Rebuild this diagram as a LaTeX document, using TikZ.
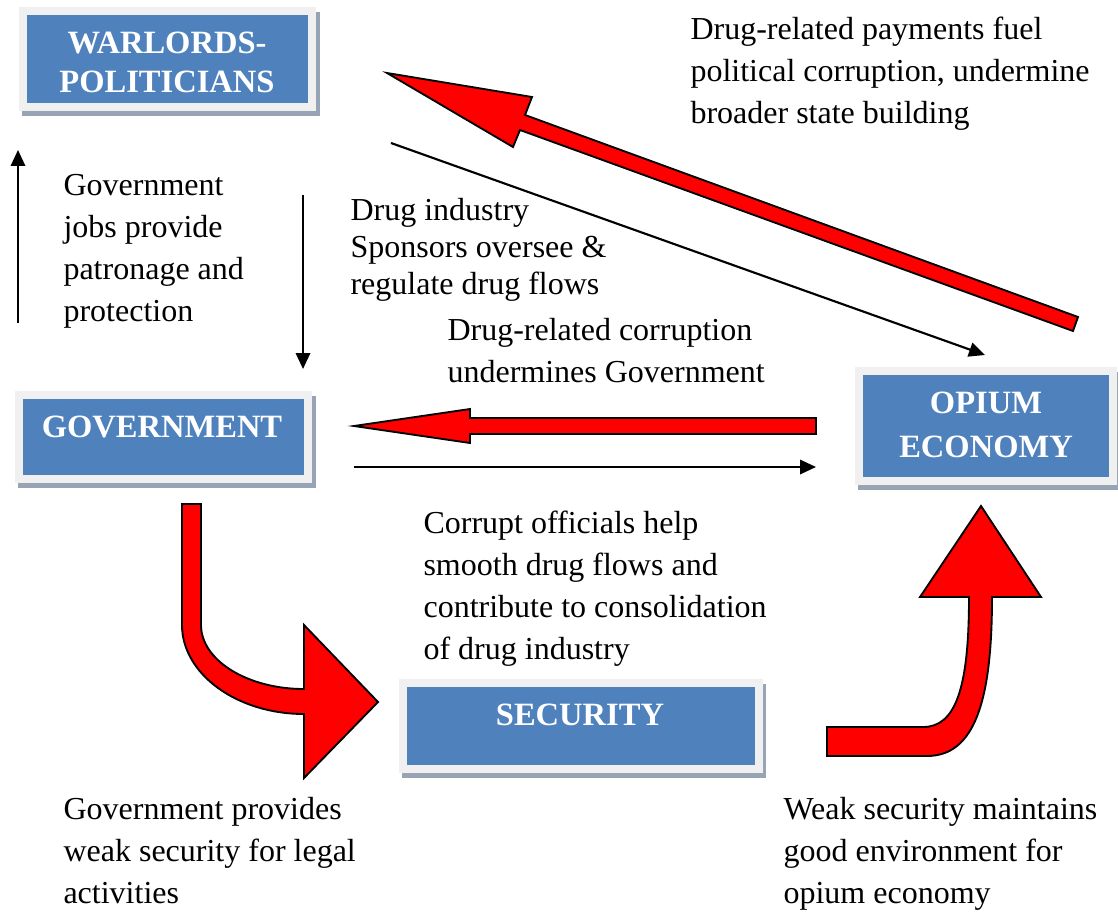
\documentclass[tikz,border=0pt]{standalone}
\usepackage{fontspec}
\setmainfont{Liberation Serif}
\usetikzlibrary{arrows.meta}
\definecolor{boxblue}{HTML}{4F81BD}
\definecolor{boxframe}{HTML}{F0F0F0}
\definecolor{boxshade}{HTML}{98A4B6}

\begin{document}
\begin{tikzpicture}[x=0.375pt, y=-0.375pt,
    box/.style={rectangle, draw=boxframe, line width=3pt, fill=boxblue, inner sep=0pt,
        preaction={draw=boxshade, fill=boxshade, line width=3pt,
            transform canvas={shift={(1.3pt,-1.7pt)}}}},
    boxlabel/.style={text=white, align=center, inner sep=0pt,
        font=\bfseries\fontsize{12.2}{14.6}\selectfont},
    note/.style={anchor=north west, align=left, inner sep=0pt,
        font=\fontsize{12}{15.75}\selectfont},
    thin/.style={-{Triangle[length=6pt,width=5.4pt]}, line width=0.8pt},
    block/.style={fill=red, draw=black, line width=0.7pt, line join=miter}]
    \useasboundingbox (0,0) rectangle (1118,912);

    % Define boxes
    \node[box, minimum width=108.4pt, minimum height=36pt] (warlords) at (167.5,59) {};
    \node[boxlabel] (warlordstxt) at (167,62) {WARLORDS-\\POLITICIANS};
    \node[box, minimum width=108.4pt, minimum height=31.5pt] (gov) at (163.5,437) {};
    \node[boxlabel] (govtxt) at (162,427) {GOVERNMENT};
    \node[box, minimum width=133.5pt, minimum height=32.25pt] (sec) at (581,726) {};
    \node[boxlabel] (sectxt) at (580,715) {SECURITY};
    \node[box, minimum width=95.25pt, minimum height=41.25pt] (opium) at (986,426) {};
    \node[boxlabel, font=\bfseries\fontsize{12.2}{16.5}\selectfont] (opiumtxt) at (986,425) {OPIUM\\ECONOMY};

    % Labels
    \node[note] (payments) at (690,16) {Drug-related payments fuel\\political corruption, undermine\\broader state building};
    \node[note] (jobs) at (63,174) {Government\\jobs provide\\patronage and\\protection};
    \node[note, font=\fontsize{12}{13.9}\selectfont] (sponsors) at (350,198) {Drug industry\\Sponsors oversee \&\\regulate drug flows};
    \node[note] (undermines) at (447,318) {Drug-related corruption\\undermines Government};
    \node[note] (officials) at (423,510) {Corrupt officials help\\smooth drug flows and\\contribute to consolidation\\of drug industry};
    \node[note] (provides) at (63,797) {Government provides\\weak security for legal\\activities};
    \node[note] (maintains) at (783,797) {Weak security maintains\\good environment for\\opium economy};

    % Arrow ends
    \coordinate (up-a) at (18,323);
    \coordinate (up-b) at (18,150);
    \coordinate (down-a) at (303,195);
    \coordinate (down-b) at (303,369);
    \coordinate (diag-a) at (391,143);
    \coordinate (diag-b) at (985,355);
    \coordinate (flow-a) at (354,467);
    \coordinate (flow-b) at (816,467);

    % Draw arrows
    \draw[thin] (up-a) -- (up-b);
    \draw[thin] (down-a) -- (down-b);
    \draw[thin] (diag-a) -- (diag-b);
    \draw[thin] (flow-a) -- (flow-b);

    % Block arrows
    \filldraw[block] (387,73) -- (532,97) -- (525,115) -- (1078,317) -- (1073,331)
        -- (520,130) -- (513,147) -- cycle;
    \filldraw[block] (354,426) -- (470,409) -- (470,418) -- (816,418) -- (816,434)
        -- (470,434) -- (470,443) -- cycle;
    \filldraw[block] (182,504) -- (182,625) .. controls (182,674) and (237,714) .. (304,714)
        -- (304,778) -- (378,702) -- (304,625) -- (304,689)
        .. controls (247,689) and (201,660) .. (201,625) -- (201,504) -- cycle;
    \filldraw[block] (827,727) -- (923,727) .. controls (955,727) and (969,690) .. (969,597)
        -- (920,597) -- (981,506) -- (1041,597) -- (992,597)
        .. controls (992,700) and (975,756) .. (927,756) -- (827,756) -- cycle;
\end{tikzpicture}
\end{document}
